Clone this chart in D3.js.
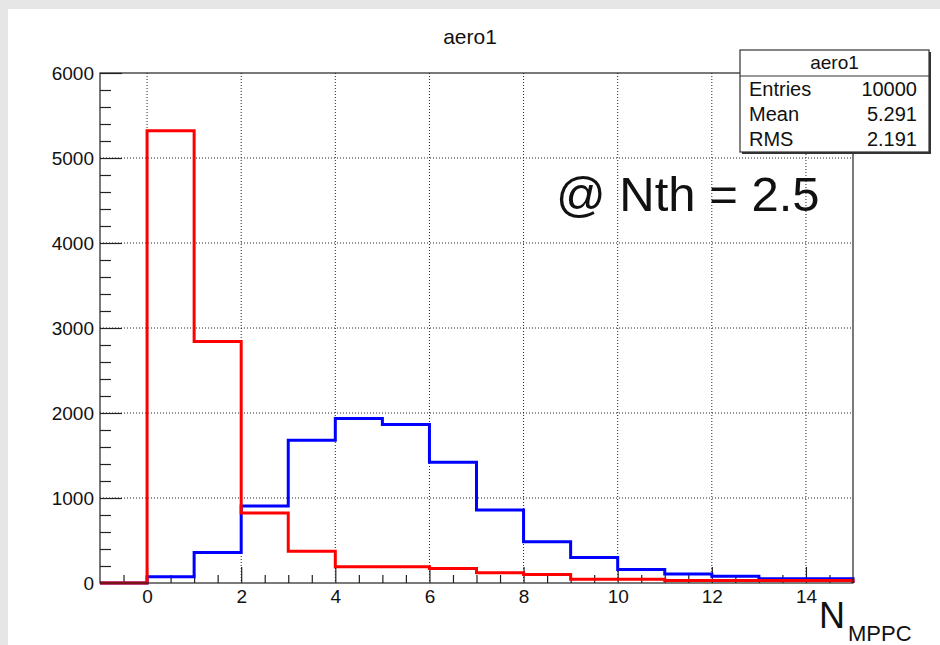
<!DOCTYPE html>
<html>
<head>
<meta charset="utf-8">
<script src="https://cdn.jsdelivr.net/npm/d3@7"></script>
<style>
  body { margin: 0; background: #e6e6e6; }
  text { font-family: "Liberation Sans", Arial, sans-serif; fill: #111; }
</style>
</head>
<body>
<div id="chart"></div>
<script>
//// DATA ////

// lower edges of the bins, each bin is 1 wide
var binLow = [-1, 0, 1, 2, 3, 4, 5, 6, 7, 8, 9, 10, 11, 12, 13, 14];
var binWidth = 1;

var blueCounts = [0, 75, 360, 905, 1680, 1935, 1865, 1420, 860, 485, 300, 160, 105, 80, 50, 50];
var redCounts = [0, 5320, 2840, 825, 375, 190, 190, 172, 120, 100, 45, 45, 30, 30, 30, 30];

var xTicks = [0, 2, 4, 6, 8, 10, 12, 14];
var yTicks = [0, 1000, 2000, 3000, 4000, 5000, 6000];

var statLabels = ["Entries", "Mean", "RMS"];
var statValues = ["10000", "5.291", "2.191"];

//// SET UP ////

var svgWidth = 940;
var svgHeight = 645;

var margin = { top: 73, right: 87, bottom: 62, left: 100 };
var width = svgWidth - margin.left - margin.right;
var height = svgHeight - margin.top - margin.bottom;

var svg = d3.select("#chart")
  .append("svg")
  .attr("width", svgWidth)
  .attr("height", svgHeight);

// white canvas pad (gray strip shows on the top and left)
svg.append("rect")
  .attr("x", 8)
  .attr("y", 9)
  .attr("width", svgWidth - 8)
  .attr("height", svgHeight - 9)
  .attr("fill", "#fff");

var chartGroup = svg.append("g")
  .attr("transform", `translate(${margin.left}, ${margin.top})`);

var xScale = d3.scaleLinear().domain([-1, 15]).range([0, width]);
var yScale = d3.scaleLinear().domain([0, 6000]).range([height, 0]);

// Grid lines (dotted)
chartGroup.selectAll(".gridx")
  .data(xTicks)
  .enter()
  .append("line")
  .attr("x1", d => xScale(d))
  .attr("x2", d => xScale(d))
  .attr("y1", 0)
  .attr("y2", height)
  .attr("stroke", "#222")
  .attr("stroke-width", 1)
  .attr("stroke-dasharray", "1,2");

chartGroup.selectAll(".gridy")
  .data(yTicks.slice(1, -1))
  .enter()
  .append("line")
  .attr("x1", 0)
  .attr("x2", width)
  .attr("y1", d => yScale(d))
  .attr("y2", d => yScale(d))
  .attr("stroke", "#222")
  .attr("stroke-width", 1)
  .attr("stroke-dasharray", "1,2");

// Axes with inward ticks
var xMinor = d3.range(-0.5, 15, 0.5).filter(d => xTicks.indexOf(d) < 0);
var yMinor = d3.range(200, 6000, 200).filter(d => yTicks.indexOf(d) < 0);

var bottomMinor = d3.axisBottom(xScale).tickValues(xMinor).tickSize(-8).tickFormat("");
var bottomAxis = d3.axisBottom(xScale).tickValues(xTicks).tickSize(-16).tickPadding(7)
  .tickFormat(d3.format("d"));
var leftMinor = d3.axisLeft(yScale).tickValues(yMinor).tickSize(-11).tickFormat("");
var leftAxis = d3.axisLeft(yScale).tickValues(yTicks).tickSize(-22).tickPadding(6)
  .tickFormat(d3.format("d"));

function styleAxis(g) {
  g.select(".domain").remove();
  g.selectAll("line").attr("stroke", "#222").attr("stroke-width", 1.2);
  g.selectAll("text")
    .style("font-family", "'Liberation Sans', Arial, sans-serif")
    .style("font-size", "19px")
    .attr("fill", "#111");
}

chartGroup.append("g").attr("transform", `translate(0, ${height})`).call(bottomMinor).call(styleAxis);
chartGroup.append("g").attr("transform", `translate(0, ${height})`).call(bottomAxis).call(styleAxis);
chartGroup.append("g").call(leftMinor).call(styleAxis);
chartGroup.append("g").call(leftAxis).call(styleAxis);

// step outline of a histogram
function histPoints(counts) {
  var pts = [[xScale(binLow[0]), yScale(0)]];
  counts.forEach(function(c, i) {
    pts.push([xScale(binLow[i]), yScale(c)]);
    pts.push([xScale(binLow[i] + binWidth), yScale(c)]);
  });
  pts.push([xScale(binLow[binLow.length - 1] + binWidth), yScale(0)]);
  return pts;
}

var line = d3.line();

chartGroup.append("path")
  .attr("d", line(histPoints(blueCounts)))
  .attr("fill", "none")
  .attr("stroke", "#0000ff")
  .attr("stroke-width", 3);

chartGroup.append("path")
  .attr("d", line(histPoints(redCounts)))
  .attr("fill", "none")
  .attr("stroke", "#ff0000")
  .attr("stroke-width", 3);

// Frame
chartGroup.append("rect")
  .attr("x", 0)
  .attr("y", 0)
  .attr("width", width)
  .attr("height", height)
  .attr("fill", "none")
  .attr("stroke", "#222")
  .attr("stroke-width", 1.2);

// Title
svg.append("text")
  .attr("x", 470)
  .attr("y", 44)
  .attr("text-anchor", "middle")
  .style("font-size", "21px")
  .text("aero1");

// Annotation
svg.append("text")
  .attr("x", 556)
  .attr("y", 211)
  .style("font-size", "49px")
  .attr("fill", "#111")
  .text("@ Nth = 2.5");

// x axis label N_MPPC
var xLabel = svg.append("text")
  .attr("x", 819)
  .attr("y", 628);
xLabel.append("tspan").style("font-size", "36px").text("N");
xLabel.append("tspan").attr("dx", 3).attr("dy", 13).style("font-size", "22px").text("MPPC");

// Stats box
var box = { x: 740, y: 50, w: 189, h: 102, row: 25 };
var statsGroup = svg.append("g");

statsGroup.append("rect")
  .attr("x", box.x + 2)
  .attr("y", box.y + 2)
  .attr("width", box.w)
  .attr("height", box.h)
  .attr("fill", "#333");

statsGroup.append("rect")
  .attr("x", box.x)
  .attr("y", box.y)
  .attr("width", box.w)
  .attr("height", box.h)
  .attr("fill", "#fff")
  .attr("stroke", "#333")
  .attr("stroke-width", 1.2);

statsGroup.append("line")
  .attr("x1", box.x)
  .attr("x2", box.x + box.w)
  .attr("y1", box.y + box.row + 1)
  .attr("y2", box.y + box.row + 1)
  .attr("stroke", "#333")
  .attr("stroke-width", 1.2);

statsGroup.append("text")
  .attr("x", box.x + box.w / 2)
  .attr("y", box.y + 19)
  .attr("text-anchor", "middle")
  .style("font-size", "19px")
  .text("aero1");

statsGroup.selectAll(".statLabel")
  .data(statLabels)
  .enter()
  .append("text")
  .attr("x", box.x + 9)
  .attr("y", (d, i) => box.y + 46 + i * 25)
  .style("font-size", "20px")
  .text(d => d);

statsGroup.selectAll(".statValue")
  .data(statValues)
  .enter()
  .append("text")
  .attr("x", box.x + 177)
  .attr("y", (d, i) => box.y + 46 + i * 25)
  .attr("text-anchor", "end")
  .style("font-size", "20px")
  .text(d => d);
</script>
</body>
</html>
